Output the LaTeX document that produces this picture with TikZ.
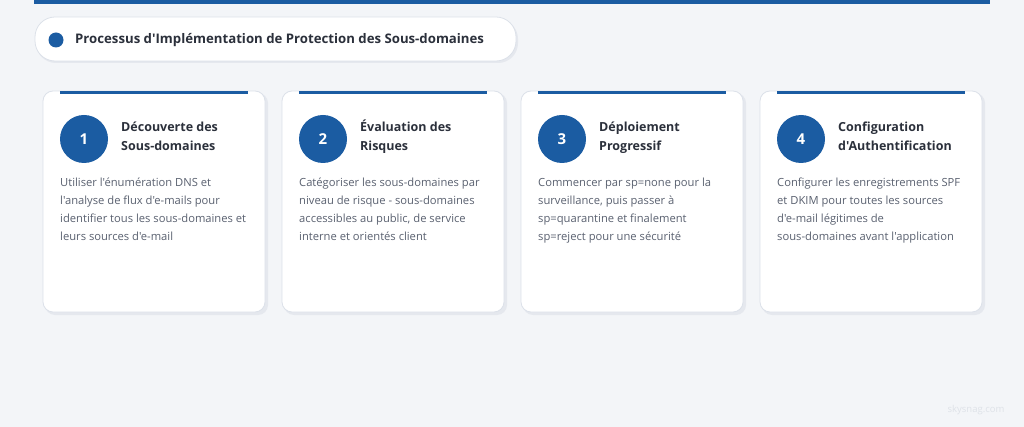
\documentclass[tikz,border=0pt]{standalone}
\usepackage{fontspec}
\setmainfont{Open Sans}[Ligatures=TeXOff]
\definecolor{brand}{HTML}{1B5CA2}
\definecolor{bgc}{HTML}{F3F5F8}
\definecolor{cardline}{HTML}{DCE1E9}
\definecolor{shadowc}{HTML}{E5E8EE}
\definecolor{titlec}{HTML}{2B303B}
\definecolor{descc}{HTML}{5A6170}
\definecolor{wmc}{HTML}{DEE2E8}
\begin{document}
\begin{tikzpicture}[x=1pt,y=-1pt,
  card/.style={draw=cardline, line width=0.8pt, fill=white, rounded corners=10pt},
  cardshadow/.style={fill=shadowc, rounded corners=10pt, draw=none},
  numcircle/.style={circle, fill=brand, minimum size=48pt, inner sep=0pt, text=white, font=\fontsize{15}{18}\selectfont\bfseries},
  steptitle/.style={anchor=north west, inner sep=0pt, align=left, text=titlec, font=\fontsize{12.5}{19}\selectfont\bfseries},
  stepdesc/.style={anchor=north west, inner sep=0pt, align=left, text=descc, font=\fontsize{11.2}{18}\selectfont},
  topbar/.style={fill=brand, draw=none}
]
\useasboundingbox (0,0) rectangle (1024,427);
\fill[bgc] (0,0) rectangle (1024,427);
\fill[brand] (34,0) rectangle (990,4);
% title pill
\fill[shadowc, rounded corners=20pt] (36,19) rectangle (518,63);
\draw[draw=cardline, line width=0.8pt, fill=white, rounded corners=20pt] (35,17) rectangle (516,61);
\node[circle, fill=brand, minimum size=15pt, inner sep=0pt] (dot) at (56,40) {};
\node[anchor=west, inner sep=0pt, text=titlec, font=\fontsize{13.2}{16}\selectfont\bfseries] (title) at (75,40) {Processus d'Implémentation de Protection des Sous-domaines};
% cards
\foreach \x/\n [count=\i] in {43/1, 282/2, 521/3, 760/4}{
  \fill[cardshadow] (\x+2,93) rectangle (\x+225,315);
  \draw[card] (\x,91) rectangle (\x+222,312);
  \fill[topbar] (\x+17,91) rectangle (\x+205,94);
  \node[numcircle] (c\i) at (\x+41,139) {\n};
}
\node[steptitle] (t1) at (121,118) {\strut Découverte des\\Sous-domaines};
\node[steptitle] (t2) at (360,118) {\strut Évaluation des\\Risques};
\node[steptitle] (t3) at (599,118) {\strut Déploiement\\Progressif};
\node[steptitle] (t4) at (838,118) {\strut Configuration\\d'Authentification};
\node[stepdesc] (d1) at (60,173.5) {\strut Utiliser l'énumération DNS et\\l'analyse de flux d'e-mails pour\\identifier tous les sous-domaines et\\leurs sources d'e-mail};
\node[stepdesc] (d2) at (299,173.5) {\strut Catégoriser les sous-domaines par\\niveau de risque - sous-domaines\\accessibles au public, de service\\interne et orientés client};
\node[stepdesc] (d3) at (538,173.5) {\strut Commencer par sp=none pour la\\surveillance, puis passer à\\sp=quarantine et finalement\\sp=reject pour une sécurité};
\node[stepdesc] (d4) at (777,173.5) {\strut Configurer les enregistrements SPF\\et DKIM pour toutes les sources\\d'e-mail légitimes de\\sous-domaines avant l'application};
\node[anchor=center, inner sep=0pt, text=wmc, font=\fontsize{9.5}{11}\selectfont] (wm) at (976,410) {skysnag.com};
\end{tikzpicture}
\end{document}
